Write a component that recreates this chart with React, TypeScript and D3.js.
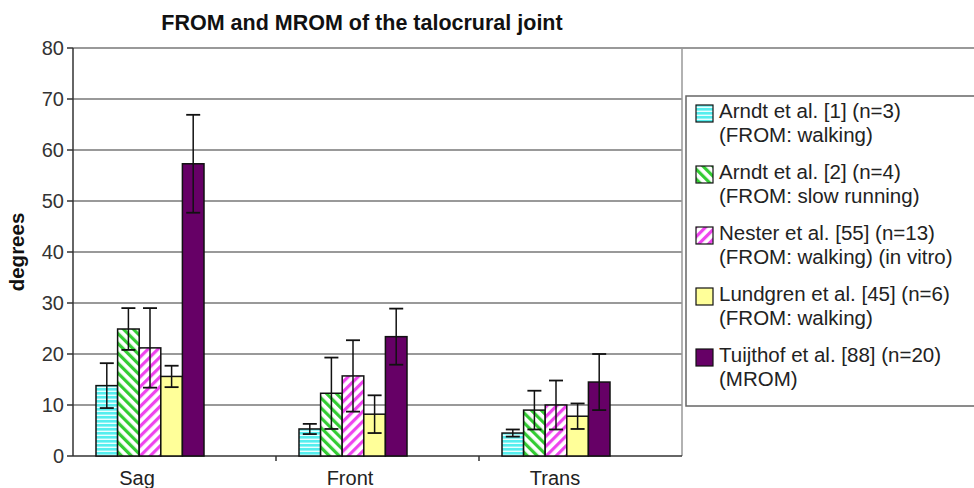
import React from "react";
import * as d3 from "d3";

const categories = ["Sag", "Front", "Trans"];
const seriesNames = [
  ["Arndt et al. [1] (n=3)", "(FROM: walking)"],
  ["Arndt et al. [2] (n=4)", "(FROM: slow running)"],
  ["Nester et al. [55] (n=13)", "(FROM: walking) (in vitro)"],
  ["Lundgren et al. [45] (n=6)", "(FROM: walking)"],
  ["Tuijthof et al. [88] (n=20)", "(MROM)"],
];
const arndt1 = [13.8, 5.3, 4.5];
const arndt1Err = [4.4, 1.0, 0.7];
const arndt2 = [24.9, 12.3, 9.0];
const arndt2Err = [4.1, 7.0, 3.8];
const nester = [21.2, 15.7, 10.0];
const nesterErr = [7.8, 7.0, 4.8];
const lundgren = [15.6, 8.2, 7.8];
const lundgrenErr = [2.1, 3.7, 2.5];
const tuijthof = [57.3, 23.4, 14.5];
const tuijthofErr = [9.6, 5.5, 5.5];
const yTicks = [0, 10, 20, 30, 40, 50, 60, 70, 80];

const values = [arndt1, arndt2, nester, lundgren, tuijthof];
const errors = [arndt1Err, arndt2Err, nesterErr, lundgrenErr, tuijthofErr];
const fills = ["url(#pCyan)", "url(#pGreen)", "url(#pPink)", "#ffff99", "#660066"];

const FONT = "Liberation Sans, Arial, sans-serif";

export default function App() {
  const W = 974, H = 488;
  const left = 73, right = 682, top = 48, bottom = 456;
  const y = d3.scaleLinear().domain([0, 80]).range([bottom, top]);
  const x = d3.scaleBand<string>().domain(categories).range([left, right]);
  const inner = d3.scaleBand<number>().domain(d3.range(5)).range([23, 131]);
  const bw = inner.bandwidth();
  const labelOffset = [64, 74, 76];

  return (
    <svg width={W} height={H} style={{ position: "absolute", left: 0, top: 0, background: "#fff" }} fontFamily={FONT}>
      <defs>
        <pattern id="pCyan" patternUnits="userSpaceOnUse" width="8" height="4">
          <rect width="8" height="4" fill="#55eeee" />
          <rect y="2.6" width="8" height="1.4" fill="#eaffff" />
        </pattern>
        <pattern id="pGreen" patternUnits="userSpaceOnUse" width="7" height="7" patternTransform="rotate(-45)">
          <rect width="7" height="7" fill="#ffffff" />
          <rect width="3.2" height="7" fill="#33cc33" />
        </pattern>
        <pattern id="pPink" patternUnits="userSpaceOnUse" width="7" height="7" patternTransform="rotate(45)">
          <rect width="7" height="7" fill="#ffffff" />
          <rect width="3.2" height="7" fill="#ee44ee" />
        </pattern>
      </defs>
      <rect width={W} height={H} fill="#fff" />
      <text x={362} y={30} textAnchor="middle" fontSize={21.5} fontWeight="bold" fill="#111">
        FROM and MROM of the talocrural joint
      </text>
      {yTicks.filter(t => t > 0).map(t => (
        <line key={t} x1={left} x2={t === 80 ? W : right} y1={y(t)} y2={y(t)} stroke="#777" strokeWidth={1.5} />
      ))}
      <line x1={right} x2={right} y1={top} y2={bottom} stroke="#999" strokeWidth={1.5} />
      <line x1={left} x2={left} y1={top} y2={bottom} stroke="#333" strokeWidth={1.5} />
      {yTicks.map(t => (
        <g key={t}>
          <line x1={left - 6} x2={left} y1={y(t)} y2={y(t)} stroke="#333" strokeWidth={1.5} />
          <text x={left - 9} y={y(t)} dy="0.36em" textAnchor="end" fontSize={20} fill="#333">{t}</text>
        </g>
      ))}
      <text transform={`translate(24,${y(40)}) rotate(-90)`} textAnchor="middle" fontSize={20.5} fontWeight="bold" fill="#111">degrees</text>
      <line x1={left} x2={right} y1={bottom} y2={bottom} stroke="#333" strokeWidth={1.5} />
      {categories.slice(0, -1).map(c => (
        <line key={c} x1={(x(c) as number) + x.bandwidth()} x2={(x(c) as number) + x.bandwidth()} y1={bottom} y2={bottom + 5} stroke="#333" strokeWidth={1.5} />
      ))}
      {categories.map((c, i) => (
        <text key={c} x={(x(c) as number) + labelOffset[i]} y={485} textAnchor="middle" fontSize={20} fill="#222">{c}</text>
      ))}
      {values.map((vals, si) =>
        categories.map((c, ci) => {
          const bx = (x(c) as number) + (inner(si) as number);
          const v = vals[ci];
          const e = errors[si][ci];
          const cx = bx + bw / 2;
          return (
            <g key={`${si}-${ci}`}>
              <rect x={bx} y={y(v)} width={bw} height={y(0) - y(v)} fill={fills[si]} stroke="#111" strokeWidth={1.5} />
              <line x1={cx} x2={cx} y1={y(v + e)} y2={y(v - e)} stroke="#111" strokeWidth={1.5} />
              <line x1={cx - 7} x2={cx + 7} y1={y(v + e)} y2={y(v + e)} stroke="#111" strokeWidth={1.8} />
              <line x1={cx - 7} x2={cx + 7} y1={y(v - e)} y2={y(v - e)} stroke="#111" strokeWidth={1.8} />
            </g>
          );
        })
      )}
      <rect x={686} y={96} width={300} height={310} fill="#fff" stroke="#666" strokeWidth={1.5} />
      {seriesNames.map((lines, i) => {
        const ly = 118 + i * 61;
        return (
          <g key={i}>
            <rect x={696} y={ly - 13} width={17} height={17} fill={fills[i]} stroke="#111" strokeWidth={1.2} />
            <text x={719} y={ly} fontSize={20.5} fill="#222">{lines[0]}</text>
            <text x={719} y={ly + 24} fontSize={20.5} fill="#222">{lines[1]}</text>
          </g>
        );
      })}
    </svg>
  );
}
